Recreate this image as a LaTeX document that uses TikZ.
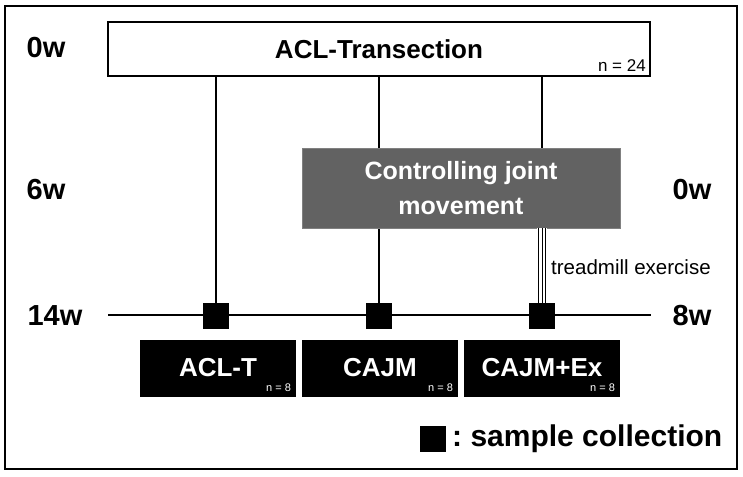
\documentclass[tikz,border=0pt]{standalone}
\usepackage{fontspec}
\setmainfont{Liberation Sans}
\usepackage{tikz}
\usetikzlibrary{positioning}

\definecolor{boxgray}{RGB}{98,98,98}
\newcommand{\fsz}[1]{\fontsize{#1}{#1}\selectfont}

\begin{document}
\begin{tikzpicture}[x=1pt,y=-1pt,
  week/.style={font=\fsz{29}\bfseries},
  group/.style={fill=black,text=white,minimum width=156,minimum height=57,inner sep=0,font=\fsz{26}\bfseries},
  sample/.style={fill=black,minimum size=26,inner sep=0},
  nsmall/.style={font=\fsz{11},text=white,inner sep=0}]
\useasboundingbox (0,0) rectangle (743,476);
\draw[line width=1.5] (5,6) rectangle (737,469);

\node[draw,line width=1.3,minimum width=542,minimum height=54,inner sep=0,font=\fsz{26}\bfseries] (trans) at (379,49) {ACL-Transection};
\node[font=\fsz{17},anchor=east,inner sep=0] (ntrans) at (646,66) {n = 24};

\node[week] (w0) at (46,48) {0w};
\node[week] (w6) at (46,190) {6w};
\node[week] (w14) at (55,316) {14w};
\node[week] (e0) at (692,190) {0w};
\node[week] (e8) at (692,316) {8w};

\coordinate (tl) at (108,315);
\coordinate (tr) at (651,315);
\draw[line width=1.6] (tl) -- (tr);

\node[sample] (s1) at (216,316) {};
\node[sample] (s2) at (379,316) {};
\node[sample] (s3) at (542,316) {};

\draw[line width=1.6] (s1 |- trans.south) -- (s1);
\draw[line width=1.6] (s2 |- trans.south) -- (s2);
\draw[line width=1.6] (s3 |- trans.south) -- (s3);

\node[fill=boxgray,draw=gray,text=white,minimum width=318,minimum height=80,inner sep=0,align=center,font=\fsz{25}\bfseries] (cjm) at (461,188) {Controlling joint\\[10pt]movement};

\fill[white] ([xshift=-5]s3 |- cjm.south) rectangle ([xshift=5]s3.north);
\foreach \dx in {-3.5,0,3.5}
  \draw[line width=1] ([xshift=\dx]s3 |- cjm.south) -- ([xshift=\dx]s3.north);
\node[font=\fsz{20.5},anchor=west,inner sep=0] (tread) at (551,267) {treadmill exercise};

\node[group] (g1) at (218,368) {ACL-T};
\node[group] (g2) at (380,368) {CAJM};
\node[group] (g3) at (542,368) {CAJM+Ex};
\foreach \g in {g1,g2,g3}
  \node[nsmall,anchor=south east] at ([xshift=-5,yshift=5]\g.south east) {n = 8};

\node[sample] (key) at (433,439) {};
\node[anchor=west,inner sep=0,font=\fsz{30}\bfseries] (keytext) at (452,439) {:\;sample collection};
\end{tikzpicture}
\end{document}
